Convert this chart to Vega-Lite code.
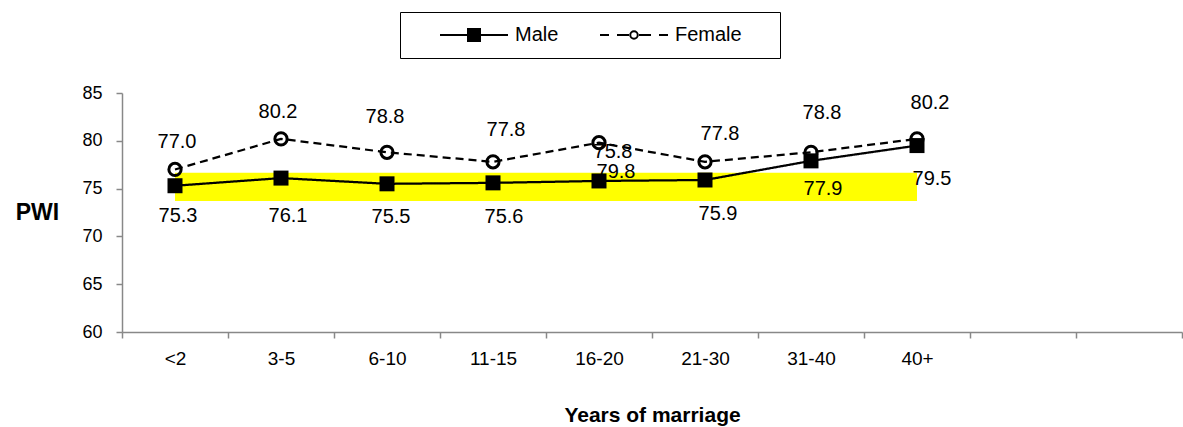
{
  "$schema": "https://vega.github.io/schema/vega-lite/v6.json",
  "width": 1060,
  "height": 239,
  "autosize": "none",
  "padding": {"left": 122, "top": 93, "right": 1, "bottom": 95},
  "background": "white",
  "config": {
    "view": {"stroke": null},
    "font": "Liberation Sans",
    "axis": {
      "domainColor": "#888888",
      "tickColor": "#888888",
      "domainWidth": 1.5,
      "tickWidth": 1.5,
      "tickSize": 6,
      "labelFont": "Liberation Sans",
      "labelColor": "black",
      "titleFont": "Liberation Sans",
      "titleColor": "black",
      "titleFontWeight": "bold",
      "grid": false
    },
    "axisX": {"labelFontSize": 19, "labelPadding": 11, "labelAngle": 0, "tickBand": "extent"},
    "axisY": {"labelFontSize": 18, "labelPadding": 14}
  },
  "datasets": {
    "pwi": [
      {"years": "<2", "sex": "Male", "pwi": 75.3},
      {"years": "3-5", "sex": "Male", "pwi": 76.1},
      {"years": "6-10", "sex": "Male", "pwi": 75.5},
      {"years": "11-15", "sex": "Male", "pwi": 75.6},
      {"years": "16-20", "sex": "Male", "pwi": 75.8},
      {"years": "21-30", "sex": "Male", "pwi": 75.9},
      {"years": "31-40", "sex": "Male", "pwi": 77.9},
      {"years": "40+", "sex": "Male", "pwi": 79.5},
      {"years": "<2", "sex": "Female", "pwi": 77.0},
      {"years": "3-5", "sex": "Female", "pwi": 80.2},
      {"years": "6-10", "sex": "Female", "pwi": 78.8},
      {"years": "11-15", "sex": "Female", "pwi": 77.8},
      {"years": "16-20", "sex": "Female", "pwi": 79.8},
      {"years": "21-30", "sex": "Female", "pwi": 77.8},
      {"years": "31-40", "sex": "Female", "pwi": 78.8},
      {"years": "40+", "sex": "Female", "pwi": 80.2}
    ],
    "band": [{"from": "<2", "to": "40+", "low": 73.7, "high": 76.65}]
  },
  "layer": [
    {
      "data": {"name": "band"},
      "mark": {"type": "rect", "color": "#FFFF00"},
      "encoding": {
        "x": {"field": "from", "type": "nominal", "bandPosition": 0.5,
              "scale": {"type": "band", "domain": ["<2","3-5","6-10","11-15","16-20","21-30","31-40","40+"," ","  "], "paddingInner": 0, "paddingOuter": 0}},
        "x2": {"field": "to", "bandPosition": 0.5},
        "y": {"field": "low", "type": "quantitative", "scale": {"domain": [60, 85], "nice": false, "zero": false}},
        "y2": {"field": "high"}
      }
    },
    {
      "data": {"name": "pwi"},
      "mark": {"type": "line", "color": "black", "strokeWidth": 2.25},
      "encoding": {
        "x": {"field": "years", "type": "nominal",
              "scale": {"type": "band", "domain": ["<2","3-5","6-10","11-15","16-20","21-30","31-40","40+"," ","  "], "paddingInner": 0, "paddingOuter": 0},
              "axis": {"title": "Years of marriage", "titleFontSize": 21, "titleY": 89, "titleBaseline": "alphabetic"}},
        "y": {"field": "pwi", "type": "quantitative", "scale": {"domain": [60, 85], "nice": false, "zero": false},
              "axis": {"values": [60, 65, 70, 75, 80, 85], "title": "PWI", "titleFontSize": 23, "titleAngle": 0, "titleX": -85, "titleY": 119, "titleAlign": "center", "titleBaseline": "middle"}},
        "strokeDash": {
          "field": "sex", "type": "nominal",
          "scale": {"domain": ["Female", "Male"], "range": [[8, 5], [1, 0]]},
          "legend": null
        }
      }
    },
    {
      "data": {"name": "pwi"},
      "transform": [{"filter": "datum.sex === 'legend-only'"}],
      "mark": {"type": "point", "filled": true, "strokeWidth": 2},
      "encoding": {
        "x": {"field": "years", "type": "nominal"},
        "y": {"field": "pwi", "type": "quantitative"},
        "shape": {
          "field": "sex", "type": "nominal",
          "scale": {"domain": ["Male", "Female"], "range": [
            "M3.4,0H17M9.0,-1.2H11.4V1.2H9.0Z",
            "M3.4,0H5.2M6.8,0H9.2M11.2,0H13.6M15.2,0H17M9.45,0A0.75,0.75 0 1,0 10.95,0A0.75,0.75 0 1,0 9.45,0ZM36,0"
          ]},
          "legend": {
            "orient": "none",
            "legendX": 278,
            "legendY": -81,
            "direction": "horizontal",
            "title": null,
            "padding": 13,
            "strokeColor": "black",
            "labelFont": "Liberation Sans",
            "labelFontSize": 20,
            "labelColor": "black",
            "labelOffset": 82,
            "columnPadding": 14,
            "symbolSize": 100,
            "symbolStrokeWidth": 2,
            "symbolOpacity": 1,
            "symbolOffset": 0
          }
        },
        "fill": {
          "field": "sex", "type": "nominal",
          "scale": {"domain": ["Male", "Female"], "range": ["black", "white"]},
          "legend": {
            "orient": "none",
            "legendX": 278,
            "legendY": -81,
            "direction": "horizontal",
            "title": null
          }
        },
        "stroke": {
          "field": "sex", "type": "nominal",
          "scale": {"domain": ["Male", "Female"], "range": ["black", "black"]},
          "legend": {
            "orient": "none",
            "legendX": 278,
            "legendY": -81,
            "direction": "horizontal",
            "title": null
          }
        }
      }
    },
    {
      "data": {"name": "pwi"},
      "transform": [{"filter": "datum.sex === 'Female'"}],
      "mark": {"type": "point", "shape": "circle", "size": 150, "strokeWidth": 3, "color": "black", "filled": false, "opacity": 1},
      "encoding": {
        "x": {"field": "years", "type": "nominal"},
        "y": {"field": "pwi", "type": "quantitative"}
      }
    },
    {
      "data": {"name": "pwi"},
      "transform": [{"filter": "datum.sex === 'Male'"}],
      "mark": {"type": "square", "size": 225, "color": "black", "opacity": 1},
      "encoding": {
        "x": {"field": "years", "type": "nominal"},
        "y": {"field": "pwi", "type": "quantitative"}
      }
    },
    {
      "data": {"name": "pwi"},
      "mark": {
        "type": "text",
        "font": "Liberation Sans",
        "fontSize": 20,
        "color": "black",
        "baseline": "middle",
        "align": "center",
        "dx": {"expr": "datum.sex === 'Male' ? {'<2':3,'3-5':7,'6-10':4,'11-15':11,'16-20':14,'21-30':13,'31-40':12,'40+':15}[datum.years] : {'<2':2,'3-5':-3,'6-10':-2,'11-15':13,'16-20':17,'21-30':15,'31-40':11,'40+':13}[datum.years]"},
        "dy": {"expr": "datum.sex === 'Male' ? {'<2':30,'3-5':38,'6-10':33,'11-15':34,'16-20':-29,'21-30':34,'31-40':28,'40+':33}[datum.years] : {'<2':-27,'3-5':-27,'6-10':-35,'11-15':-32,'16-20':29,'21-30':-28,'31-40':-39,'40+':-36}[datum.years]"}
      },
      "encoding": {
        "x": {"field": "years", "type": "nominal"},
        "y": {"field": "pwi", "type": "quantitative"},
        "text": {"field": "pwi", "type": "quantitative", "format": ".1f"}
      }
    }
  ]
}
